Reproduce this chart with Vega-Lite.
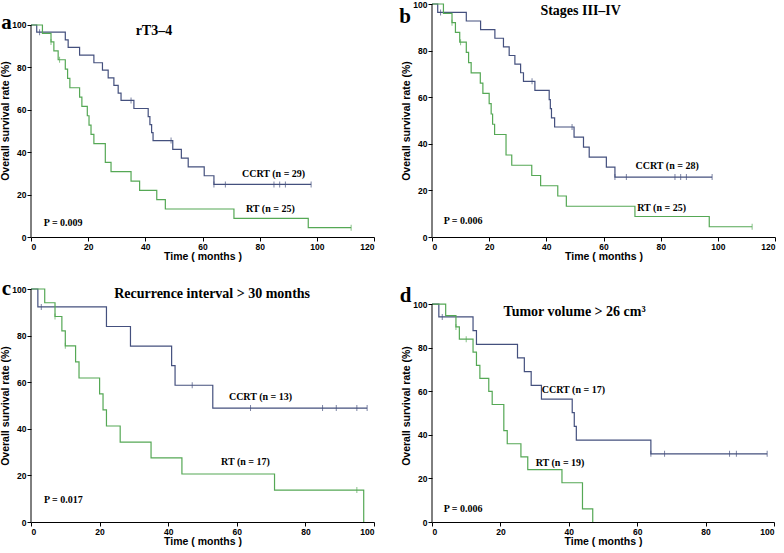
{
"$schema": "https://vega.github.io/schema/vega-lite/v6.json",
"padding": {"left": 0, "top": 0, "right": 0, "bottom": 0},
"background": "white",
"config": {
  "view": {"stroke": null},
  "axis": {"labelFont": "Liberation Sans", "labelFontWeight": "bold", "labelFontSize": 8.5, "labelColor": "black",
           "titleFont": "Liberation Sans", "titleFontWeight": "bold", "titleFontSize": 10.5, "titleColor": "black",
           "domainColor": "black", "tickColor": "black", "tickSize": 4, "grid": false, "labelPadding": 1, "titlePadding": 1},
  "text": {"color": "black"}
},
"datasets": {
  "curves": [
    {"p":"a","g":"CCRT","t":0,"s":100},{"p":"a","g":"CCRT","t":2,"s":96.6},{"p":"a","g":"CCRT","t":12,"s":93.0},{"p":"a","g":"CCRT","t":13,"s":89.4},{"p":"a","g":"CCRT","t":17,"s":85.8},{"p":"a","g":"CCRT","t":22,"s":82.2},{"p":"a","g":"CCRT","t":25,"s":78.7},{"p":"a","g":"CCRT","t":27,"s":75.1},{"p":"a","g":"CCRT","t":29,"s":71.5},{"p":"a","g":"CCRT","t":30.5,"s":67.9},{"p":"a","g":"CCRT","t":31.5,"s":64.4},{"p":"a","g":"CCRT","t":36,"s":60.6},{"p":"a","g":"CCRT","t":41,"s":56.8},{"p":"a","g":"CCRT","t":41.6,"s":53.0},{"p":"a","g":"CCRT","t":42.2,"s":49.2},{"p":"a","g":"CCRT","t":42.7,"s":45.5},{"p":"a","g":"CCRT","t":49.6,"s":41.3},{"p":"a","g":"CCRT","t":52.6,"s":37.2},{"p":"a","g":"CCRT","t":55,"s":33.1},{"p":"a","g":"CCRT","t":60.6,"s":28.9},{"p":"a","g":"CCRT","t":64,"s":24.8},{"p":"a","g":"CCRT","t":98,"s":24.8},
    {"p":"a","g":"RT","t":0,"s":100},{"p":"a","g":"RT","t":4,"s":96},{"p":"a","g":"RT","t":7,"s":92},{"p":"a","g":"RT","t":8,"s":87.8},{"p":"a","g":"RT","t":9.5,"s":83.6},{"p":"a","g":"RT","t":12,"s":79.2},{"p":"a","g":"RT","t":12.8,"s":74.8},{"p":"a","g":"RT","t":13.6,"s":70.4},{"p":"a","g":"RT","t":17,"s":66.0},{"p":"a","g":"RT","t":17.8,"s":61.6},{"p":"a","g":"RT","t":19.7,"s":57.2},{"p":"a","g":"RT","t":20.3,"s":52.8},{"p":"a","g":"RT","t":21,"s":48.4},{"p":"a","g":"RT","t":22,"s":44.0},{"p":"a","g":"RT","t":26,"s":35.2},{"p":"a","g":"RT","t":28,"s":30.8},{"p":"a","g":"RT","t":35,"s":26.4},{"p":"a","g":"RT","t":38,"s":22.0},{"p":"a","g":"RT","t":44,"s":17.6},{"p":"a","g":"RT","t":47,"s":13.2},{"p":"a","g":"RT","t":71,"s":8.8},{"p":"a","g":"RT","t":97,"s":4.4},{"p":"a","g":"RT","t":112,"s":4.4},
    {"p":"b","g":"CCRT","t":0,"s":100},{"p":"b","g":"CCRT","t":2,"s":96.4},{"p":"b","g":"CCRT","t":12,"s":92.7},{"p":"b","g":"CCRT","t":17,"s":89.0},{"p":"b","g":"CCRT","t":22,"s":85.3},{"p":"b","g":"CCRT","t":25,"s":81.6},{"p":"b","g":"CCRT","t":27,"s":77.9},{"p":"b","g":"CCRT","t":29,"s":74.2},{"p":"b","g":"CCRT","t":31,"s":70.5},{"p":"b","g":"CCRT","t":32,"s":66.8},{"p":"b","g":"CCRT","t":36,"s":62.9},{"p":"b","g":"CCRT","t":41,"s":59.0},{"p":"b","g":"CCRT","t":41.4,"s":55.1},{"p":"b","g":"CCRT","t":41.8,"s":51.1},{"p":"b","g":"CCRT","t":42.9,"s":47.2},{"p":"b","g":"CCRT","t":49.7,"s":42.9},{"p":"b","g":"CCRT","t":53,"s":38.6},{"p":"b","g":"CCRT","t":55,"s":34.3},{"p":"b","g":"CCRT","t":61,"s":30.0},{"p":"b","g":"CCRT","t":64,"s":25.7},{"p":"b","g":"CCRT","t":98,"s":25.7},
    {"p":"b","g":"RT","t":0,"s":100},{"p":"b","g":"RT","t":4,"s":96},{"p":"b","g":"RT","t":7,"s":92},{"p":"b","g":"RT","t":8.2,"s":87.8},{"p":"b","g":"RT","t":9.7,"s":83.6},{"p":"b","g":"RT","t":12,"s":79.2},{"p":"b","g":"RT","t":12.8,"s":74.8},{"p":"b","g":"RT","t":13.7,"s":70.4},{"p":"b","g":"RT","t":16.9,"s":66.0},{"p":"b","g":"RT","t":17.8,"s":61.6},{"p":"b","g":"RT","t":20,"s":57.2},{"p":"b","g":"RT","t":20.7,"s":52.8},{"p":"b","g":"RT","t":21.2,"s":48.4},{"p":"b","g":"RT","t":21.9,"s":44.0},{"p":"b","g":"RT","t":25.9,"s":35.2},{"p":"b","g":"RT","t":27.9,"s":30.8},{"p":"b","g":"RT","t":34.9,"s":26.4},{"p":"b","g":"RT","t":38,"s":22.0},{"p":"b","g":"RT","t":44,"s":17.6},{"p":"b","g":"RT","t":47,"s":13.2},{"p":"b","g":"RT","t":71,"s":8.8},{"p":"b","g":"RT","t":97,"s":4.4},{"p":"b","g":"RT","t":112,"s":4.4},
    {"p":"c","g":"CCRT","t":0,"s":100},{"p":"c","g":"CCRT","t":2,"s":92.3},{"p":"c","g":"CCRT","t":22,"s":83.9},{"p":"c","g":"CCRT","t":29,"s":75.5},{"p":"c","g":"CCRT","t":41,"s":67.1},{"p":"c","g":"CCRT","t":42,"s":58.7},{"p":"c","g":"CCRT","t":53,"s":48.9},{"p":"c","g":"CCRT","t":98,"s":48.9},
    {"p":"c","g":"RT","t":0,"s":100},{"p":"c","g":"RT","t":4,"s":94.1},{"p":"c","g":"RT","t":7,"s":88.2},{"p":"c","g":"RT","t":9,"s":82.0},{"p":"c","g":"RT","t":10,"s":75.6},{"p":"c","g":"RT","t":13,"s":68.7},{"p":"c","g":"RT","t":14,"s":61.8},{"p":"c","g":"RT","t":20,"s":55.0},{"p":"c","g":"RT","t":21,"s":48.1},{"p":"c","g":"RT","t":22,"s":41.2},{"p":"c","g":"RT","t":26,"s":34.3},{"p":"c","g":"RT","t":35,"s":27.5},{"p":"c","g":"RT","t":44,"s":20.6},{"p":"c","g":"RT","t":71,"s":13.7},{"p":"c","g":"RT","t":97,"s":0},
    {"p":"d","g":"CCRT","t":0,"s":100},{"p":"d","g":"CCRT","t":2,"s":94.1},{"p":"d","g":"CCRT","t":12,"s":87.8},{"p":"d","g":"CCRT","t":13,"s":81.5},{"p":"d","g":"CCRT","t":25,"s":75.3},{"p":"d","g":"CCRT","t":27,"s":69.0},{"p":"d","g":"CCRT","t":29,"s":62.7},{"p":"d","g":"CCRT","t":32,"s":56.4},{"p":"d","g":"CCRT","t":41,"s":50.2},{"p":"d","g":"CCRT","t":41.6,"s":43.9},{"p":"d","g":"CCRT","t":42.2,"s":37.6},{"p":"d","g":"CCRT","t":64,"s":31.3},{"p":"d","g":"CCRT","t":98,"s":31.3},
    {"p":"d","g":"RT","t":0,"s":100},{"p":"d","g":"RT","t":4,"s":94.7},{"p":"d","g":"RT","t":7,"s":89.5},{"p":"d","g":"RT","t":8,"s":83.9},{"p":"d","g":"RT","t":12,"s":77.9},{"p":"d","g":"RT","t":13,"s":71.9},{"p":"d","g":"RT","t":14,"s":65.9},{"p":"d","g":"RT","t":16.6,"s":59.9},{"p":"d","g":"RT","t":17.6,"s":53.9},{"p":"d","g":"RT","t":21,"s":41.9},{"p":"d","g":"RT","t":22,"s":35.9},{"p":"d","g":"RT","t":26,"s":29.9},{"p":"d","g":"RT","t":28,"s":24.0},{"p":"d","g":"RT","t":38,"s":18.0},{"p":"d","g":"RT","t":44,"s":6.0},{"p":"d","g":"RT","t":47,"s":0}
  ],
  "censors": [
    {"p":"a","g":"CCRT","t":3,"s":96.6},{"p":"a","g":"CCRT","t":35,"s":64.4},{"p":"a","g":"CCRT","t":49,"s":45.5},{"p":"a","g":"CCRT","t":64,"s":24.8},{"p":"a","g":"CCRT","t":68,"s":24.8},{"p":"a","g":"CCRT","t":85,"s":24.8},{"p":"a","g":"CCRT","t":87,"s":24.8},{"p":"a","g":"CCRT","t":89,"s":24.8},{"p":"a","g":"CCRT","t":98,"s":24.8},
    {"p":"a","g":"RT","t":7,"s":92},{"p":"a","g":"RT","t":10,"s":83.6},{"p":"a","g":"RT","t":112,"s":4.4},
    {"p":"b","g":"CCRT","t":3,"s":96.4},{"p":"b","g":"CCRT","t":35,"s":66.8},{"p":"b","g":"CCRT","t":49,"s":47.2},{"p":"b","g":"CCRT","t":64,"s":25.7},{"p":"b","g":"CCRT","t":68,"s":25.7},{"p":"b","g":"CCRT","t":85,"s":25.7},{"p":"b","g":"CCRT","t":87,"s":25.7},{"p":"b","g":"CCRT","t":89,"s":25.7},{"p":"b","g":"CCRT","t":98,"s":25.7},
    {"p":"b","g":"RT","t":7,"s":92},{"p":"b","g":"RT","t":10,"s":83.6},{"p":"b","g":"RT","t":112,"s":4.4},
    {"p":"c","g":"CCRT","t":3,"s":92.3},{"p":"c","g":"CCRT","t":47,"s":58.7},{"p":"c","g":"CCRT","t":64,"s":48.9},{"p":"c","g":"CCRT","t":85,"s":48.9},{"p":"c","g":"CCRT","t":89,"s":48.9},{"p":"c","g":"CCRT","t":95,"s":48.9},{"p":"c","g":"CCRT","t":98,"s":48.9},
    {"p":"c","g":"RT","t":7,"s":88.2},{"p":"c","g":"RT","t":10,"s":75.6},{"p":"c","g":"RT","t":95,"s":13.7},
    {"p":"d","g":"CCRT","t":3,"s":94.1},{"p":"d","g":"CCRT","t":64,"s":31.3},{"p":"d","g":"CCRT","t":68,"s":31.3},{"p":"d","g":"CCRT","t":87,"s":31.3},{"p":"d","g":"CCRT","t":89,"s":31.3},{"p":"d","g":"CCRT","t":98,"s":31.3},
    {"p":"d","g":"RT","t":7,"s":89.5},{"p":"d","g":"RT","t":10,"s":83.9}
  ],
  "axisline": [
    {"p":"a","t":0,"s":0,"s2":100},{"p":"b","t":0,"s":0,"s2":100},{"p":"c","t":0,"s":0,"s2":100},{"p":"d","t":0,"s":0,"s2":100}
  ],
  "notes": [
    {"p":"a","k":"title","label":"rT3–4","t":43,"s":97.2},
    {"p":"a","k":"anno","label":"CCRT (n = 29)","t":73.8,"s":29.7},
    {"p":"a","k":"anno","label":"RT (n = 25)","t":75.2,"s":13.2},
    {"p":"a","k":"anno","label":"P = 0.009","t":4.5,"s":6.6},
    {"p":"a","k":"letter","label":"a","t":-8.6,"s":98.1},
    {"p":"b","k":"title","label":"Stages III–IV","t":52,"s":97},
    {"p":"b","k":"anno","label":"CCRT (n = 28)","t":71.2,"s":30.5},
    {"p":"b","k":"anno","label":"RT (n = 25)","t":71.8,"s":12.4},
    {"p":"b","k":"anno","label":"P = 0.006","t":4.1,"s":6.9},
    {"p":"b","k":"letter","label":"b","t":-9.4,"s":91.8},
    {"p":"c","k":"title","label":"Recurrence interval > 30 months","t":52.8,"s":97.9},
    {"p":"c","k":"anno","label":"CCRT (n = 13)","t":57.7,"s":53.6},
    {"p":"c","k":"anno","label":"RT (n = 17)","t":55.4,"s":25.8},
    {"p":"c","k":"anno","label":"P = 0.017","t":3.8,"s":9.4},
    {"p":"c","k":"letter","label":"c","t":-7.2,"s":97.5},
    {"p":"d","k":"title","label":"Tumor volume > 26 cm³","t":41.7,"s":96.3},
    {"p":"d","k":"anno","label":"CCRT (n = 17)","t":32.1,"s":60.5},
    {"p":"d","k":"anno","label":"RT (n = 19)","t":30.3,"s":27},
    {"p":"d","k":"anno","label":"P = 0.006","t":3.4,"s":6},
    {"p":"d","k":"letter","label":"d","t":-7.7,"s":100.9}
  ]
},
"columns": 2,
"spacing": {"row": 15, "column": 24},
"concat": [
  {"width": 343, "height": 233,
   "layer": [
    {"data": {"name": "curves"}, "transform": [{"filter": "datum.p === 'a'"}],
     "mark": {"type": "line", "interpolate": "step-after", "strokeWidth": 1.2},
     "encoding": {
       "x": {"field": "t", "type": "quantitative", "scale": {"domain": [0, 120], "nice": false}, "axis": {"title": "Time ( months )", "values": [0,20,40,60,80,100,120]}},
       "y": {"field": "s", "type": "quantitative", "scale": {"domain": [0, 109.9], "nice": false}, "axis": {"title": "Overall survival rate (%)", "values": [0,20,40,60,80,100], "domain": false}},
       "color": {"field": "g", "type": "nominal", "scale": {"domain": ["CCRT", "RT"], "range": ["#44507e", "#55a855"]}, "legend": null}}},
    {"data": {"name": "censors"}, "transform": [{"filter": "datum.p === 'a'"}],
     "mark": {"type": "tick", "orient": "vertical", "size": 6, "thickness": 1},
     "encoding": {"x": {"field": "t", "type": "quantitative"}, "y": {"field": "s", "type": "quantitative"}, "color": {"field": "g", "type": "nominal"}}},
    {"data": {"name": "axisline"}, "transform": [{"filter": "datum.p === 'a'"}],
     "mark": {"type": "rule", "color": "black", "strokeWidth": 1},
     "encoding": {"x": {"field": "t", "type": "quantitative"}, "y": {"field": "s", "type": "quantitative"}, "y2": {"field": "s2"}}},
    {"data": {"name": "notes"}, "transform": [{"filter": "datum.p === 'a' && datum.k === 'title'"}],
     "mark": {"type": "text", "font": "Liberation Serif", "fontWeight": "bold", "fontSize": 14, "align": "center", "baseline": "middle"},
     "encoding": {"x": {"field": "t", "type": "quantitative"}, "y": {"field": "s", "type": "quantitative"}, "text": {"field": "label"}}},
    {"data": {"name": "notes"}, "transform": [{"filter": "datum.p === 'a' && datum.k === 'anno'"}],
     "mark": {"type": "text", "font": "Liberation Serif", "fontWeight": "bold", "fontSize": 10, "align": "left", "baseline": "middle"},
     "encoding": {"x": {"field": "t", "type": "quantitative"}, "y": {"field": "s", "type": "quantitative"}, "text": {"field": "label"}}},
    {"data": {"name": "notes"}, "transform": [{"filter": "datum.p === 'a' && datum.k === 'letter'"}],
     "mark": {"type": "text", "font": "Liberation Serif", "fontWeight": "bold", "fontSize": 21, "align": "center", "baseline": "alphabetic"},
     "encoding": {"x": {"field": "t", "type": "quantitative"}, "y": {"field": "s", "type": "quantitative"}, "text": {"field": "label"}}}
   ]},
  {"width": 343, "height": 233,
   "layer": [
    {"data": {"name": "curves"}, "transform": [{"filter": "datum.p === 'b'"}],
     "mark": {"type": "line", "interpolate": "step-after", "strokeWidth": 1.2},
     "encoding": {
       "x": {"field": "t", "type": "quantitative", "scale": {"domain": [0, 120], "nice": false}, "axis": {"title": "Time ( months )", "values": [0,20,40,60,80,100,120]}},
       "y": {"field": "s", "type": "quantitative", "scale": {"domain": [0, 100], "nice": false}, "axis": {"title": "Overall survival rate (%)", "values": [0,20,40,60,80,100], "domain": false}},
       "color": {"field": "g", "type": "nominal", "scale": {"domain": ["CCRT", "RT"], "range": ["#44507e", "#55a855"]}, "legend": null}}},
    {"data": {"name": "censors"}, "transform": [{"filter": "datum.p === 'b'"}],
     "mark": {"type": "tick", "orient": "vertical", "size": 6, "thickness": 1},
     "encoding": {"x": {"field": "t", "type": "quantitative"}, "y": {"field": "s", "type": "quantitative"}, "color": {"field": "g", "type": "nominal"}}},
    {"data": {"name": "axisline"}, "transform": [{"filter": "datum.p === 'b'"}],
     "mark": {"type": "rule", "color": "black", "strokeWidth": 1},
     "encoding": {"x": {"field": "t", "type": "quantitative"}, "y": {"field": "s", "type": "quantitative"}, "y2": {"field": "s2"}}},
    {"data": {"name": "notes"}, "transform": [{"filter": "datum.p === 'b' && datum.k === 'title'"}],
     "mark": {"type": "text", "font": "Liberation Serif", "fontWeight": "bold", "fontSize": 14, "align": "center", "baseline": "middle"},
     "encoding": {"x": {"field": "t", "type": "quantitative"}, "y": {"field": "s", "type": "quantitative"}, "text": {"field": "label"}}},
    {"data": {"name": "notes"}, "transform": [{"filter": "datum.p === 'b' && datum.k === 'anno'"}],
     "mark": {"type": "text", "font": "Liberation Serif", "fontWeight": "bold", "fontSize": 10, "align": "left", "baseline": "middle"},
     "encoding": {"x": {"field": "t", "type": "quantitative"}, "y": {"field": "s", "type": "quantitative"}, "text": {"field": "label"}}},
    {"data": {"name": "notes"}, "transform": [{"filter": "datum.p === 'b' && datum.k === 'letter'"}],
     "mark": {"type": "text", "font": "Liberation Serif", "fontWeight": "bold", "fontSize": 21, "align": "center", "baseline": "alphabetic"},
     "encoding": {"x": {"field": "t", "type": "quantitative"}, "y": {"field": "s", "type": "quantitative"}, "text": {"field": "label"}}}
   ]},
  {"width": 343, "height": 233,
   "layer": [
    {"data": {"name": "curves"}, "transform": [{"filter": "datum.p === 'c'"}],
     "mark": {"type": "line", "interpolate": "step-after", "strokeWidth": 1.2},
     "encoding": {
       "x": {"field": "t", "type": "quantitative", "scale": {"domain": [0, 100], "nice": false}, "axis": {"title": "Time ( months )", "values": [0,20,40,60,80,100]}},
       "y": {"field": "s", "type": "quantitative", "scale": {"domain": [0, 100], "nice": false}, "axis": {"title": "Overall survival rate (%)", "values": [0,20,40,60,80,100], "domain": false}},
       "color": {"field": "g", "type": "nominal", "scale": {"domain": ["CCRT", "RT"], "range": ["#44507e", "#55a855"]}, "legend": null}}},
    {"data": {"name": "censors"}, "transform": [{"filter": "datum.p === 'c'"}],
     "mark": {"type": "tick", "orient": "vertical", "size": 6, "thickness": 1},
     "encoding": {"x": {"field": "t", "type": "quantitative"}, "y": {"field": "s", "type": "quantitative"}, "color": {"field": "g", "type": "nominal"}}},
    {"data": {"name": "axisline"}, "transform": [{"filter": "datum.p === 'c'"}],
     "mark": {"type": "rule", "color": "black", "strokeWidth": 1},
     "encoding": {"x": {"field": "t", "type": "quantitative"}, "y": {"field": "s", "type": "quantitative"}, "y2": {"field": "s2"}}},
    {"data": {"name": "notes"}, "transform": [{"filter": "datum.p === 'c' && datum.k === 'title'"}],
     "mark": {"type": "text", "font": "Liberation Serif", "fontWeight": "bold", "fontSize": 14, "align": "center", "baseline": "middle"},
     "encoding": {"x": {"field": "t", "type": "quantitative"}, "y": {"field": "s", "type": "quantitative"}, "text": {"field": "label"}}},
    {"data": {"name": "notes"}, "transform": [{"filter": "datum.p === 'c' && datum.k === 'anno'"}],
     "mark": {"type": "text", "font": "Liberation Serif", "fontWeight": "bold", "fontSize": 10, "align": "left", "baseline": "middle"},
     "encoding": {"x": {"field": "t", "type": "quantitative"}, "y": {"field": "s", "type": "quantitative"}, "text": {"field": "label"}}},
    {"data": {"name": "notes"}, "transform": [{"filter": "datum.p === 'c' && datum.k === 'letter'"}],
     "mark": {"type": "text", "font": "Liberation Serif", "fontWeight": "bold", "fontSize": 21, "align": "center", "baseline": "alphabetic"},
     "encoding": {"x": {"field": "t", "type": "quantitative"}, "y": {"field": "s", "type": "quantitative"}, "text": {"field": "label"}}}
   ]},
  {"width": 342, "height": 233,
   "layer": [
    {"data": {"name": "curves"}, "transform": [{"filter": "datum.p === 'd'"}],
     "mark": {"type": "line", "interpolate": "step-after", "strokeWidth": 1.2},
     "encoding": {
       "x": {"field": "t", "type": "quantitative", "scale": {"domain": [0, 100], "nice": false}, "axis": {"title": "Time ( months )", "values": [0,20,40,60,80,100]}},
       "y": {"field": "s", "type": "quantitative", "scale": {"domain": [0, 106.9], "nice": false}, "axis": {"title": "Overall survival rate (%)", "values": [0,20,40,60,80,100], "domain": false}},
       "color": {"field": "g", "type": "nominal", "scale": {"domain": ["CCRT", "RT"], "range": ["#44507e", "#55a855"]}, "legend": null}}},
    {"data": {"name": "censors"}, "transform": [{"filter": "datum.p === 'd'"}],
     "mark": {"type": "tick", "orient": "vertical", "size": 6, "thickness": 1},
     "encoding": {"x": {"field": "t", "type": "quantitative"}, "y": {"field": "s", "type": "quantitative"}, "color": {"field": "g", "type": "nominal"}}},
    {"data": {"name": "axisline"}, "transform": [{"filter": "datum.p === 'd'"}],
     "mark": {"type": "rule", "color": "black", "strokeWidth": 1},
     "encoding": {"x": {"field": "t", "type": "quantitative"}, "y": {"field": "s", "type": "quantitative"}, "y2": {"field": "s2"}}},
    {"data": {"name": "notes"}, "transform": [{"filter": "datum.p === 'd' && datum.k === 'title'"}],
     "mark": {"type": "text", "font": "Liberation Serif", "fontWeight": "bold", "fontSize": 14, "align": "center", "baseline": "middle"},
     "encoding": {"x": {"field": "t", "type": "quantitative"}, "y": {"field": "s", "type": "quantitative"}, "text": {"field": "label"}}},
    {"data": {"name": "notes"}, "transform": [{"filter": "datum.p === 'd' && datum.k === 'anno'"}],
     "mark": {"type": "text", "font": "Liberation Serif", "fontWeight": "bold", "fontSize": 10, "align": "left", "baseline": "middle"},
     "encoding": {"x": {"field": "t", "type": "quantitative"}, "y": {"field": "s", "type": "quantitative"}, "text": {"field": "label"}}},
    {"data": {"name": "notes"}, "transform": [{"filter": "datum.p === 'd' && datum.k === 'letter'"}],
     "mark": {"type": "text", "font": "Liberation Serif", "fontWeight": "bold", "fontSize": 21, "align": "center", "baseline": "alphabetic"},
     "encoding": {"x": {"field": "t", "type": "quantitative"}, "y": {"field": "s", "type": "quantitative"}, "text": {"field": "label"}}}
   ]}
]
}
